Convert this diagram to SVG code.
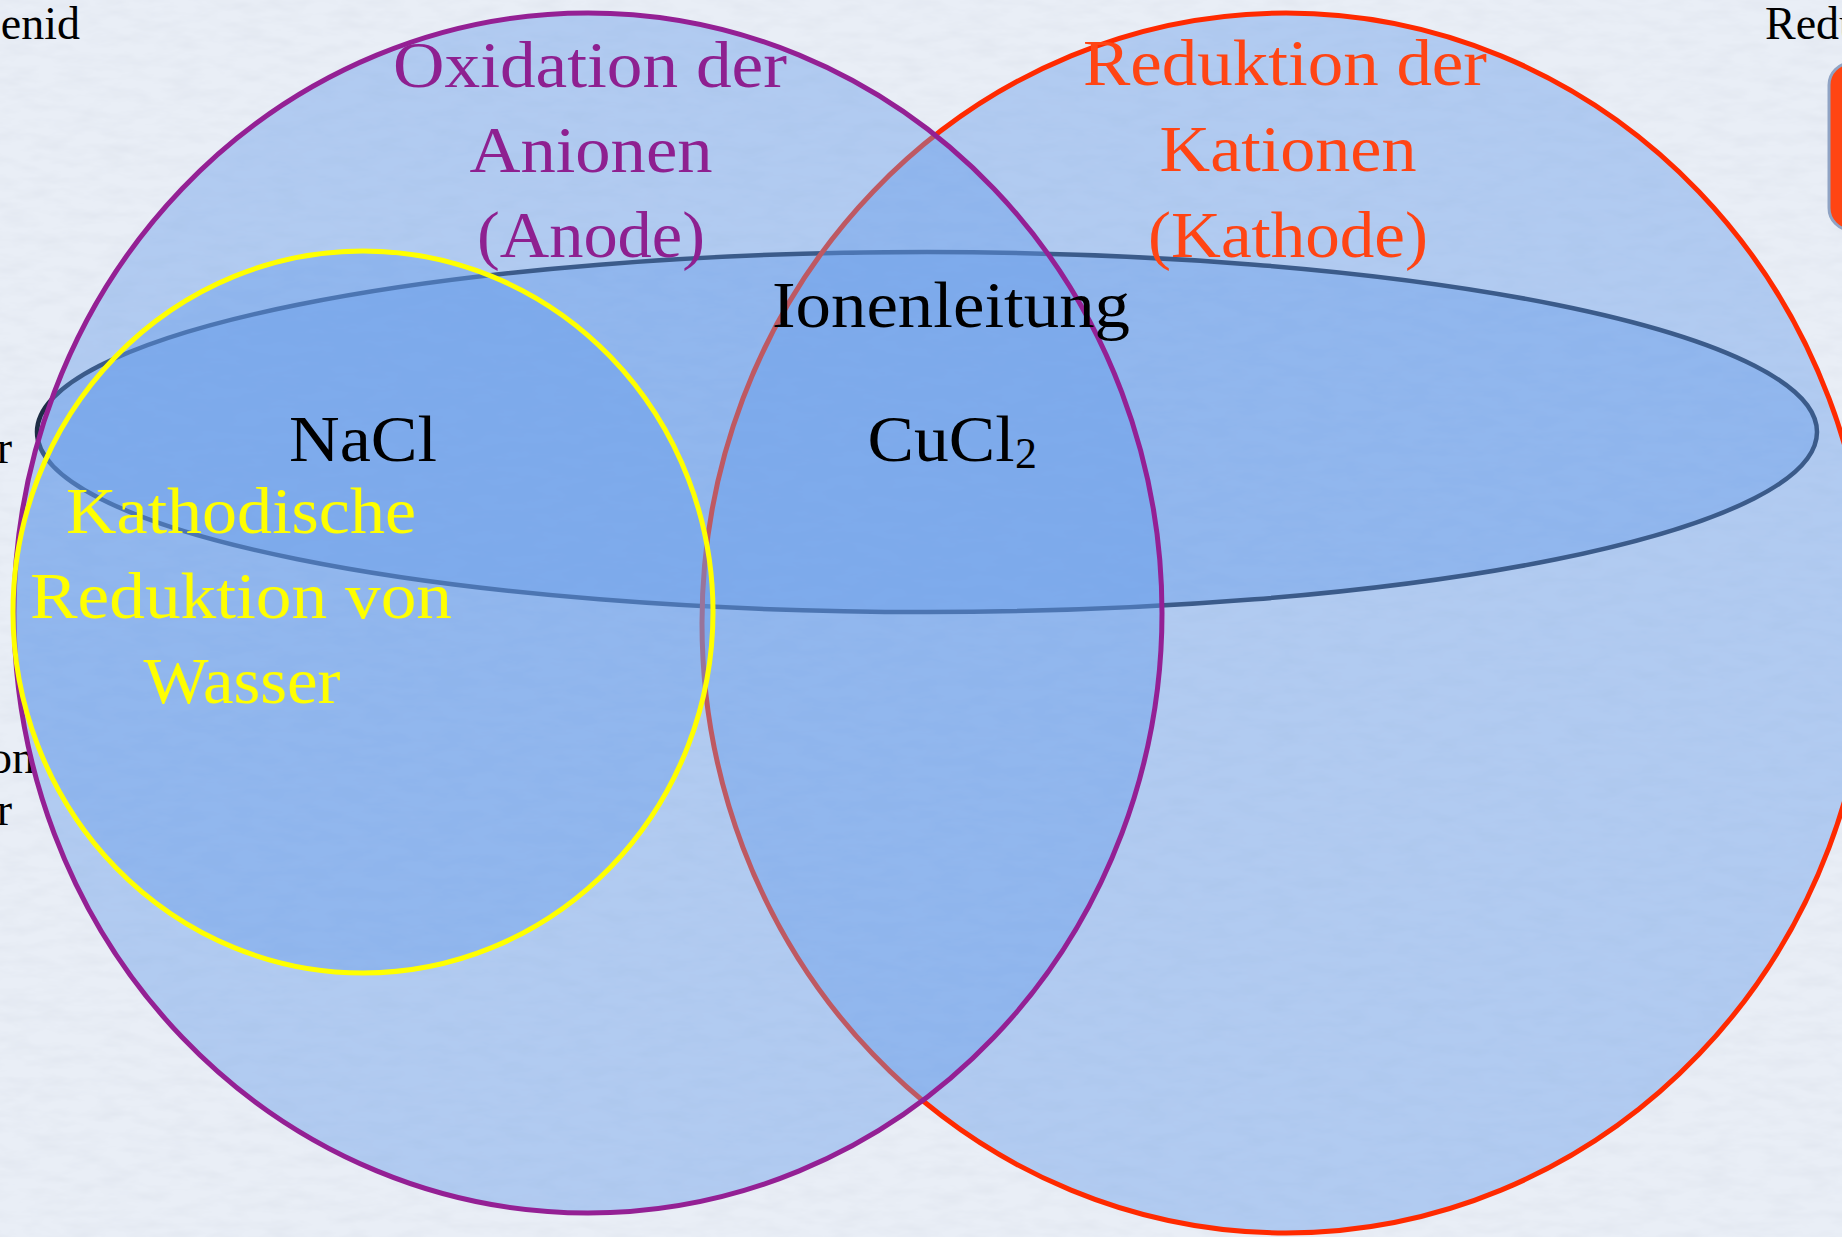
<svg xmlns="http://www.w3.org/2000/svg" width="1842" height="1237" viewBox="0 0 1842 1237">
<defs>
<filter id="paper" x="0" y="0" width="100%" height="100%">
<feTurbulence type="fractalNoise" baseFrequency="0.03 0.09" numOctaves="3" seed="7"/>
<feColorMatrix type="matrix" values="0 0 0 0 0.62  0 0 0 0 0.66  0 0 0 0 0.74  0.45 0 0 0 -0.17"/>
</filter>
<style>
.set{fill:#659be9;fill-opacity:0.42;}
.t{font-family:"Liberation Serif","Times New Roman",serif;text-anchor:middle;}
.big{font-size:66px;}
.edge{font-family:"Liberation Serif","Times New Roman",serif;font-size:46px;fill:#000;}
</style>
</defs>
<rect width="1842" height="1237" fill="#e9eef6"/>
<rect width="1842" height="1237" filter="url(#paper)"/>
<g id="edge-fragments">
<text class="edge" x="80" y="39" text-anchor="end">enid</text>
<text class="edge" x="1765" y="39">Redu</text>
<text class="edge" x="12" y="463" text-anchor="end">r</text>
<text class="edge" x="35" y="773" text-anchor="end">on</text>
<text class="edge" x="12" y="825" text-anchor="end">r</text>
<rect id="orange-box" x="1829" y="63" width="60" height="167" rx="22" fill="#ff4513" stroke="#8fa3c4" stroke-width="3"/>
</g>
<g id="ionenleitung">
<ellipse class="set" cx="927" cy="432" rx="890" ry="180" stroke="#1e2d46" stroke-width="4.5"/>
</g>
<g id="reduktion-kationen">
<ellipse class="set" cx="1286" cy="623" rx="584" ry="610" stroke="#ff2a00" stroke-width="5"/>
</g>
<g id="oxidation-anionen">
<ellipse class="set" cx="588" cy="613" rx="574" ry="600" stroke="#942094" stroke-width="5"/>
</g>
<g id="kathodische-reduktion-wasser">
<ellipse class="set" cx="363" cy="612" rx="350" ry="361" stroke="#ffff00" stroke-width="5"/>
</g>
<g id="connectors"/>
<g id="labels">
<g id="label-oxidation" fill="#8e2090" class="t big">
<text x="590" y="87" textLength="394" lengthAdjust="spacingAndGlyphs">Oxidation der</text>
<text x="591" y="172" textLength="243" lengthAdjust="spacingAndGlyphs">Anionen</text>
<text x="591" y="257" textLength="228" lengthAdjust="spacingAndGlyphs">(Anode)</text>
</g>
<g id="label-reduktion" fill="#ff4514" class="t big">
<text x="1285" y="85" textLength="404" lengthAdjust="spacingAndGlyphs">Reduktion der</text>
<text x="1288" y="171" textLength="257" lengthAdjust="spacingAndGlyphs">Kationen</text>
<text x="1288" y="257" textLength="280" lengthAdjust="spacingAndGlyphs">(Kathode)</text>
</g>
<g id="label-ionenleitung" fill="#000" class="t big">
<text x="951" y="327" textLength="358" lengthAdjust="spacingAndGlyphs">Ionenleitung</text>
</g>
<g id="label-nacl" fill="#000" class="t big">
<text x="363" y="461" textLength="148" lengthAdjust="spacingAndGlyphs">NaCl</text>
</g>
<g id="label-cucl2" fill="#000" class="t">
<text x="941" y="461" font-size="66" textLength="147" lengthAdjust="spacingAndGlyphs">CuCl</text>
<text x="1026" y="468" font-size="44">2</text>
</g>
<g id="label-wasser" fill="#ffff00" class="t big">
<text x="241" y="533" textLength="350" lengthAdjust="spacingAndGlyphs">Kathodische</text>
<text x="241" y="618" textLength="422" lengthAdjust="spacingAndGlyphs">Reduktion von</text>
<text x="242" y="703" textLength="197" lengthAdjust="spacingAndGlyphs">Wasser</text>
</g>
</g>
</svg>
